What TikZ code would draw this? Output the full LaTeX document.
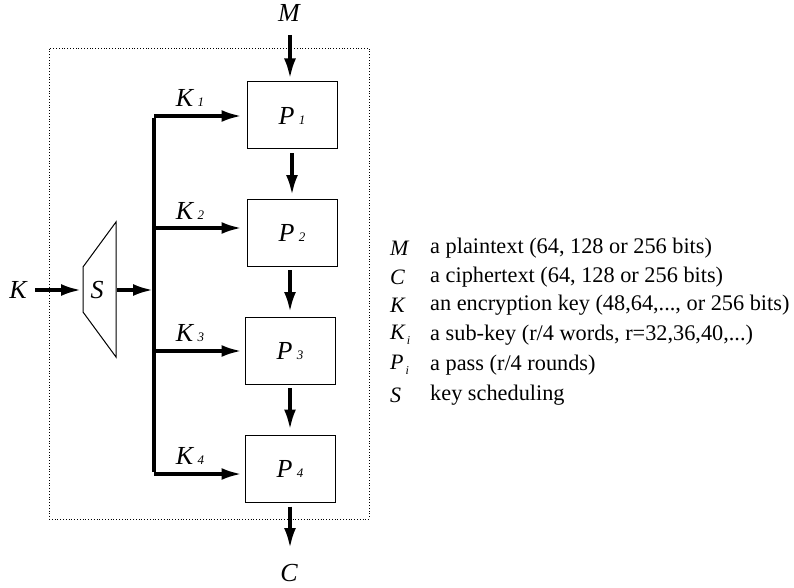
\documentclass[tikz,border=0pt]{standalone}
\usepackage{fontspec}
\setmainfont{Liberation Serif}
\usetikzlibrary{arrows.meta}
\tikzset{
  lbl/.style={font=\fontsize{26}{28}\selectfont\itshape, inner sep=0pt},
  pbox/.style={draw, line width=1pt, minimum width=90pt, minimum height=67pt, inner sep=0pt, font=\fontsize{26}{28}\selectfont\itshape},
  thickarrow/.style={line width=3.3pt, -{Latex[length=20pt,width=12pt]}},
  bus/.style={line width=4pt},
  legsym/.style={font=\fontsize{22}{24}\selectfont\itshape, anchor=west, inner sep=0pt},
  legtxt/.style={font=\fontsize{22.3}{24}\selectfont, anchor=west, inner sep=0pt},
}
\newcommand{\sbs}[1]{\,{\fontsize{13}{13}\selectfont #1}}
\newcommand{\lsub}[1]{\raisebox{-5pt}{\fontsize{12}{12}\selectfont\,#1}}
\begin{document}
\begin{tikzpicture}[x=1pt,y=-1pt]
\useasboundingbox (0,0) rectangle (794,588);
% dotted frame
\node[draw, dotted, line width=0.8pt, minimum width=320pt, minimum height=471pt, inner sep=0pt] (frame) at (209,283.5) {};
% pass boxes
\node[pbox] (p1) at (292,115.5) {P\sbs{1}};
\node[pbox] (p2) at (292,233) {P\sbs{2}};
\node[pbox] (p3) at (290,351) {P\sbs{3}};
\node[pbox] (p4) at (290,468.5) {P\sbs{4}};
% M and C
\node[lbl] (m) at (289,13) {M};
\node[lbl] (c) at (289,573) {C};
\coordinate (mtop) at (290,35);
\coordinate (cbot) at (290,548);
\draw[thickarrow, shorten >=3pt] (mtop) -- (mtop |- p1.north);
\draw[thickarrow, shorten <=4pt, shorten >=4pt] (p1.south) -- (p2.north);
\draw[thickarrow, shorten <=3pt, shorten >=5pt] (p2.south -| p3.north) -- (p3.north);
\draw[thickarrow, shorten <=3pt, shorten >=5pt] (p3.south) -- (p4.north);
\draw[thickarrow, shorten <=4pt] (p4.south) -- (cbot);
% key scheduling trapezoid
\coordinate (sA) at (83,267);
\coordinate (sB) at (116,222);
\coordinate (sC) at (116,357);
\coordinate (sD) at (83,312);
\draw[line width=1pt] (sA) -- (sB) -- (sC) -- (sD) -- cycle;
\node[lbl] (s) at (97,290) {S};
\node[lbl] (k) at (18,290) {K};
\coordinate (kin) at (35,290);
\draw[thickarrow, shorten >=2pt] (kin) -- (kin -| sA);
% bus
\coordinate (bustop) at (154,116);
\coordinate (busbot) at (154,474);
\coordinate (busin) at (154,290);
\coordinate (j2) at (154,228);
\coordinate (j3) at (154,351);
\draw[thickarrow, shorten <=1pt, shorten >=1pt] (busin -| sC) -- (busin);
\draw[bus, line cap=butt] ([yshift=-2pt]bustop) -- ([yshift=2pt]busbot);
\draw[thickarrow, shorten >=5pt] (bustop) -- (bustop -| p1.west);
\draw[thickarrow, shorten >=5pt] (j2) -- (j2 -| p2.west);
\draw[thickarrow, shorten >=3pt] (j3) -- (j3 -| p3.west);
\draw[thickarrow, shorten >=3pt] (busbot) -- (busbot -| p4.west);
\node[lbl] (k1) at (190,98) {K\sbs{1}};
\node[lbl] (k2) at (190,211) {K\sbs{2}};
\node[lbl] (k3) at (190,333) {K\sbs{3}};
\node[lbl] (k4) at (190,456) {K\sbs{4}};
% legend
\node[legsym] (lm) at (390,248) {M};
\node[legtxt] (tm) at (430,248) {a plaintext (64, 128 or 256 bits)};
\node[legsym] (lc) at (390,277) {C};
\node[legtxt] (tc) at (430,277) {a ciphertext (64, 128 or 256 bits)};
\node[legsym] (lk) at (390,305) {K};
\node[legtxt] (tk) at (430,305) {an encryption key (48,64,..., or 256 bits)};
\node[legsym] (lki) at (390,335) {K\lsub{i}};
\node[legtxt] (tki) at (430,335) {a sub-key (r/4 words, r=32,36,40,...)};
\node[legsym] (lpi) at (390,365) {P\lsub{i}};
\node[legtxt] (tpi) at (430,365) {a pass (r/4 rounds)};
\node[legsym] (ls) at (390,395) {S};
\node[legtxt] (ts) at (430,395) {key scheduling};
\end{tikzpicture}
\end{document}
